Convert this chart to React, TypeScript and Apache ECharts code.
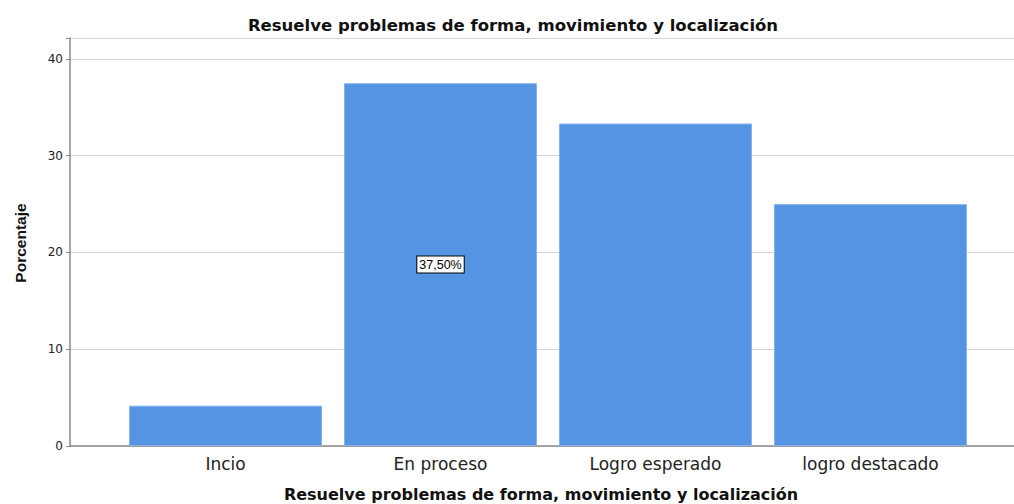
import React, { useEffect, useRef } from "react";
import * as echarts from "echarts";

const categories = ["Incio", "En proceso", "Logro esperado", "logro destacado"];
const percentages = [4.17, 37.5, 33.33, 25.0];
const labelledIndex = 1;
const yTicks = [0, 10, 20, 30, 40];
const chartTitle = "Resuelve problemas de forma, movimiento y localización";
const xAxisTitle = "Resuelve problemas de forma, movimiento y localización";
const yAxisTitle = "Porcentaje";

const Y_MAX = 42.17;
const BAR_COLOR = "#5594e3";

export default function App() {
  const ref = useRef<HTMLDivElement>(null);
  useEffect(() => {
    if (!ref.current) return;
    const chart = echarts.init(ref.current, undefined, { renderer: "svg" });
    chart.setOption({
      animation: false,
      backgroundColor: "#ffffff",
      graphic: [
        {
          type: "text",
          x: 513,
          y: 25,
          style: {
            text: chartTitle,
            font: "bold 16.5px 'DejaVu Sans'",
            fill: "#111",
            textAlign: "center",
            textVerticalAlign: "middle",
          },
        },
        {
          type: "text",
          x: 541,
          y: 494,
          style: {
            text: xAxisTitle,
            font: "bold 16px 'DejaVu Sans'",
            fill: "#111",
            textAlign: "center",
            textVerticalAlign: "middle",
          },
        },
        {
          type: "text",
          x: 20,
          y: 243,
          rotation: Math.PI / 2,
          style: {
            text: yAxisTitle,
            font: "bold 15.5px 'Liberation Sans'",
            fill: "#111",
            textAlign: "center",
            textVerticalAlign: "middle",
          },
        },
      ],
      grid: [
        { left: 70, right: 0, top: 38, bottom: 58 },
        { left: 118, width: 860, top: 38, bottom: 58 },
      ],
      xAxis: [
        {
          gridIndex: 0,
          type: "value",
          min: 0,
          max: 1,
          axisLine: { show: true, lineStyle: { color: "#8a8a8a", width: 1.5 } },
          axisTick: { show: false },
          axisLabel: { show: false },
          splitLine: { show: false },
        },
        {
          gridIndex: 1,
          type: "category",
          data: categories,
          axisLine: { show: false },
          axisTick: { show: false },
          axisLabel: {
            fontFamily: "DejaVu Sans",
            fontSize: 17,
            color: "#222",
            margin: 9,
          },
        },
      ],
      yAxis: [
        {
          gridIndex: 0,
          type: "value",
          min: 0,
          max: Y_MAX,
          interval: 10,
          axisLine: { show: true, lineStyle: { color: "#8a8a8a", width: 1.5 } },
          axisTick: { show: true, length: 4, lineStyle: { color: "#8a8a8a" } },
          axisLabel: {
            fontFamily: "DejaVu Sans",
            fontSize: 12,
            color: "#222",
            margin: 7,
            formatter: (v: number) => (yTicks.includes(v) ? String(v) : ""),
          },
          splitLine: { show: true, lineStyle: { color: "#d4d4d4", width: 1 } },
        },
        {
          gridIndex: 1,
          type: "value",
          min: 0,
          max: Y_MAX,
          show: false,
          splitLine: { show: false },
        },
      ],
      series: [
        {
          type: "bar",
          xAxisIndex: 1,
          yAxisIndex: 1,
          barWidth: 193,
          data: percentages.map((v, i) => ({
            value: v,
            label:
              i === labelledIndex
                ? {
                    show: true,
                    position: "inside",
                    formatter: () => v.toFixed(2).replace(".", ",") + "%",
                    fontFamily: "Liberation Sans",
                    fontSize: 12.5,
                    color: "#000",
                    backgroundColor: "#fff",
                    borderColor: "#000",
                    borderWidth: 1,
                    padding: [2, 2, 1, 2],
                  }
                : { show: false },
          })),
          itemStyle: { color: BAR_COLOR, borderColor: "#86b3ec", borderWidth: 1 },
        },
      ],
    });
    return () => chart.dispose();
  }, []);
  return <div ref={ref} style={{ width: 1014, height: 504, position: "absolute", left: 0, top: 0 }} />;
}
